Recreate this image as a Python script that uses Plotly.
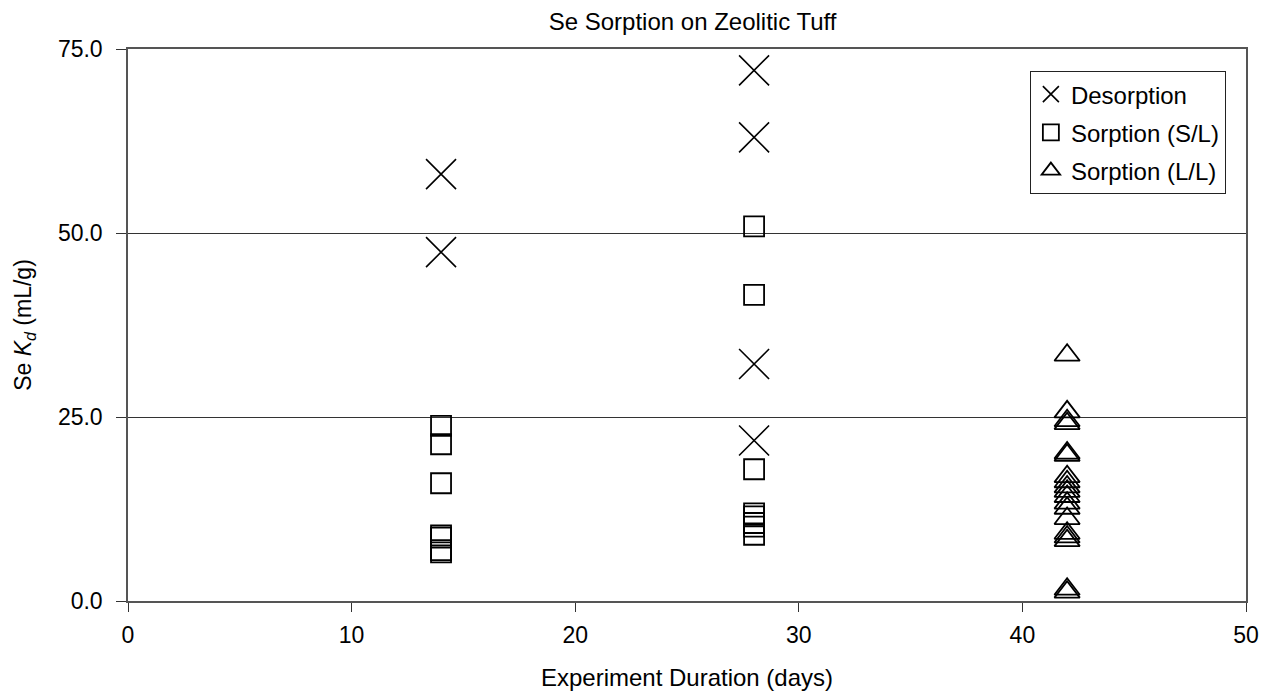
import plotly.graph_objects as go

# ---- data ----
desorption_days = [14, 14, 28, 28, 28, 28]
desorption_kd = [58.0, 47.4, 72.1, 63.0, 32.2, 21.8]

sorption_sl_days = [14, 14, 14, 14, 14, 14, 14, 28, 28, 28, 28, 28, 28, 28, 28]
sorption_sl_kd = [23.8, 21.3, 16.0, 8.9, 8.6, 6.9, 6.6,
                  50.9, 41.6, 17.9, 11.9, 11.5, 10.6, 10.1, 9.0]

sorption_ll_days = [42] * 19
sorption_ll_kd = [33.4, 25.7, 24.5, 24.1, 20.1, 19.8, 16.9, 16.2, 15.5, 14.9,
                  14.2, 13.3, 12.6, 11.2, 9.2, 8.7, 8.2, 1.6, 1.2]

series_names = ["Desorption", "Sorption (S/L)", "Sorption (L/L)"]
x_ticks = [0, 10, 20, 30, 40, 50]
y_ticks = [0, 25, 50, 75]

FONT = "Arial, Liberation Sans, sans-serif"

fig = go.Figure()
fig.add_trace(go.Scatter(
    x=desorption_days, y=desorption_kd, mode="markers", name=series_names[0],
    legendgroup="a",
    marker=dict(symbol="x-thin-open", size=30, color="black",
                line=dict(color="black", width=1.6)),
))
fig.add_trace(go.Scatter(
    x=sorption_sl_days, y=sorption_sl_kd, mode="markers", name=series_names[1],
    legendgroup="b",
    marker=dict(symbol="square-open", size=20, color="black",
                line=dict(color="black", width=1.8)),
))
fig.add_trace(go.Scatter(
    x=sorption_ll_days, y=sorption_ll_kd, mode="markers", name=series_names[2],
    legendgroup="c",
    marker=dict(symbol="triangle-up-open", size=22, color="black",
                line=dict(color="black", width=1.8)),
))

fig.update_layout(
    width=1262, height=693,
    margin=dict(l=128, r=16, t=49, b=92, autoexpand=False),
    paper_bgcolor="white", plot_bgcolor="white",
    font=dict(family=FONT, size=23, color="black"),
    title=dict(text="Se Sorption on Zeolitic Tuff", x=0.505, xanchor="center",
               xref="paper",
               y=1 - 22 / 693, yanchor="middle", yref="container",
               font=dict(family=FONT, size=24, color="black")),
    showlegend=True,
    legend=dict(x=0.982, xanchor="right", y=0.96, yanchor="top",
                bgcolor="white", bordercolor="#222", borderwidth=1,
                font=dict(family=FONT, size=24, color="black"),
                tracegroupgap=4, itemsizing="trace"),
    xaxis=dict(
        range=[0, 50], tickvals=x_ticks, ticktext=[str(v) for v in x_ticks],
        ticks="outside", ticklen=9, tickwidth=1.2, tickcolor="#333",
        showline=True, linecolor="#555", linewidth=1.5, mirror=True,
        showgrid=False, zeroline=False,
        tickfont=dict(family=FONT, size=23), ticklabelstandoff=4,
        title=dict(text="Experiment Duration (days)", standoff=22,
                   font=dict(family=FONT, size=24)),
    ),
    yaxis=dict(
        range=[0, 75], tickvals=y_ticks, tickformat=".1f",
        ticks="outside", ticklen=10, tickwidth=1.2, tickcolor="#333",
        showline=True, linecolor="#555", linewidth=1.5, mirror=True,
        showgrid=True, gridcolor="#333", gridwidth=1, zeroline=False,
        tickfont=dict(family=FONT, size=23), ticklabelstandoff=9,
        title=dict(text="Se <i>K</i><sub><i>d</i></sub> (mL/g)", standoff=20,
                   font=dict(family=FONT, size=23)),
    ),
)

fig.write_html("out.html")
